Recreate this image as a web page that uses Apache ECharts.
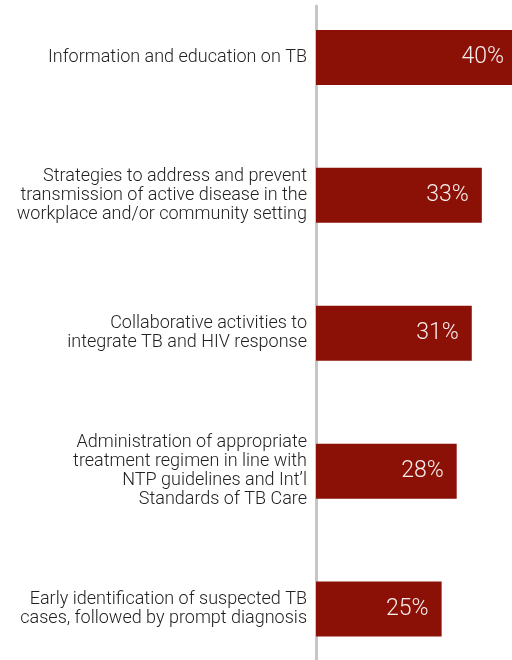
<!DOCTYPE html>
<html><head><meta charset="utf-8">
<script src="https://cdn.jsdelivr.net/npm/echarts@6/dist/echarts.min.js"></script>
<style>html,body{margin:0;padding:0;background:#fff}#c{width:512px;height:660px}</style>
</head><body><div id="c"></div>
<script>
const categories = [
  "Information and education on TB",
  "Strategies to address and prevent\ntransmission of active disease in the\nworkplace and/or community setting",
  "Collaborative activities to\nintegrate TB and HIV response",
  "Administration of appropriate\ntreatment regimen in line with\nNTP guidelines and Int\u2019l\nStandards of TB Care",
  "Early identification of suspected TB\ncases, followed by prompt diagnosis"
];
const values = [40, 33, 31, 28, 25];

const chart = echarts.init(document.getElementById('c'), null, {renderer: 'canvas'});
const FONT = 'Roboto';
chart.setOption({
  animation: false,
  grid: [
    {left: 316, top: -11.5, height: 689.5, width: 201, containLabel: false, outerBoundsMode: 'none'},
    {left: 316, top: 6, bottom: 0, width: 1, outerBoundsMode: 'none'}
  ],
  xAxis: [
    {type: 'value', gridIndex: 0, min: 0, max: 40, show: false},
    {type: 'value', gridIndex: 1, show: false}
  ],
  yAxis: [
    {
      type: 'category', gridIndex: 0, data: categories, inverse: true,
      axisLine: {show: false}, axisTick: {show: false},
      axisLabel: {
        margin: 9, color: '#222', fontFamily: FONT, fontWeight: 300,
        fontSize: 18, lineHeight: 19, align: 'right'
      }
    },
    {
      type: 'value', gridIndex: 1, min: 0, max: 1,
      axisLine: {show: true, lineStyle: {color: '#c6c6c6', width: 3}},
      axisTick: {show: false}, axisLabel: {show: false}, splitLine: {show: false}
    }
  ],
  series: [{
    type: 'bar', xAxisIndex: 0, yAxisIndex: 0, data: values,
    barWidth: 55,
    itemStyle: {color: '#8b1106'},
    label: {
      show: true, position: 'insideRight', distance: 13,
      formatter: '{c}%', color: '#f6eeee', fontFamily: FONT, fontWeight: 300, fontSize: 23
    }
  }]
});
</script></body></html>
